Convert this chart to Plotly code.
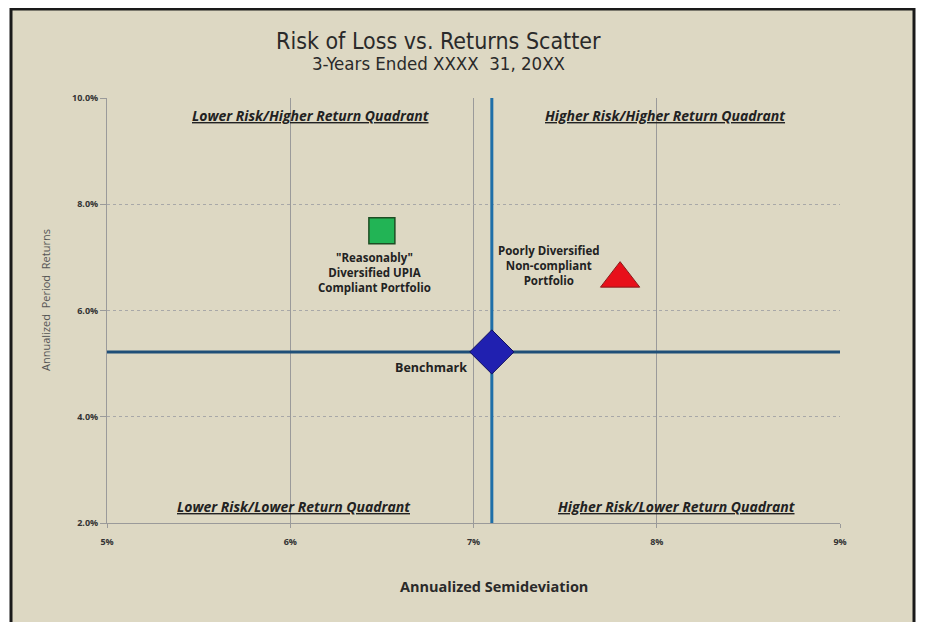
import plotly.graph_objects as go

# ---- data ----
series_names = ["Reasonably Diversified UPIA Compliant Portfolio",
                "Poorly Diversified Non-compliant Portfolio",
                "Benchmark"]
risk = [6.5, 7.8, 7.1]          # annualized semideviation, %
ret = [7.5, 6.6, 5.22]          # annualized period returns, %
x_ticks = [5, 6, 7, 8, 9]
x_tick_labels = ["5%", "6%", "7%", "8%", "9%"]
y_ticks = [2, 4, 6, 8, 10]
y_tick_labels = ["2.0%", "4.0%", "6.0%", "8.0%", "10.0%"]

point_labels = ["\"Reasonably\"<br>Diversified UPIA<br>Compliant Portfolio",
                "Poorly Diversified<br>Non-compliant<br>Portfolio",
                "Benchmark"]
quadrant_labels = ["Lower Risk/Higher Return Quadrant",
                   "Higher Risk/Higher Return Quadrant",
                   "Lower Risk/Lower Return Quadrant",
                   "Higher Risk/Lower Return Quadrant"]

BEIGE = "#ddd8c3"
FONT = "Open Sans"
TFONT = "DejaVu Sans Condensed"

fig = go.Figure()

fig.add_trace(go.Scatter(x=[risk[0]], y=[ret[0]], mode="markers",
                         marker=dict(symbol="square", size=26, color="#22b455",
                                     line=dict(color="#1d4d23", width=1.5)),
                         showlegend=False, hoverinfo="skip"))
fig.add_trace(go.Scatter(x=[risk[1]], y=[ret[1]], mode="markers",
                         marker=dict(symbol="triangle-up", size=34, color="#e8101a",
                                     line=dict(color="#8a1a1a", width=1)),
                         showlegend=False, hoverinfo="skip"))
fig.add_trace(go.Scatter(x=[risk[2]], y=[ret[2]], mode="markers",
                         marker=dict(symbol="diamond", size=34, color="#2020b0",
                                     line=dict(color="#101060", width=1)),
                         showlegend=False, hoverinfo="skip"))

# page offset: the browser body has an 8px margin
OFF = 8
L, R, T, B = 107, 840, 98, 523          # plot area in screen pixels
VW, VH = 925, 622
W, H = VW - OFF, VH - OFF
def px(x): return (x - L) / (R - L)
def py(y): return (B - y) / (B - T)

shapes = [
    dict(type="rect", xref="paper", yref="paper", layer="below",
         x0=px(11), x1=px(914), y0=py(640), y1=py(9),
         fillcolor=BEIGE, line=dict(color="#1a1a1a", width=3)),
    dict(type="line", xref="x", yref="y", layer="between",
         x0=risk[2], x1=risk[2], y0=y_ticks[0], y1=y_ticks[-1],
         line=dict(color="#1f6fa8", width=3)),
    dict(type="line", xref="x", yref="y", layer="between",
         x0=x_ticks[0], x1=x_ticks[-1], y0=ret[2], y1=ret[2],
         line=dict(color="#1f4f78", width=3)),
]

def paper_ann(x, y, text, size, color="#2a2a2a", family=FONT, angle=0):
    return dict(xref="paper", yref="paper", x=px(x), y=py(y), showarrow=False,
                xanchor="center", yanchor="middle", text=text, textangle=angle,
                font=dict(family=family, size=size, color=color))

annotations = [
    paper_ann(438, 41, "Risk of Loss vs. Returns Scatter", 23, family=TFONT),
    paper_ann(438, 64, "3-Years Ended XXXX  31, 20XX", 18.5, family=TFONT),
    paper_ann(494, 586, "<b>Annualized Semideviation</b>", 14.5),
    paper_ann(45, 300, "Annualized  Period  Returns", 11, color="#555555", angle=-90),
    dict(x=6.46, y=6.72, showarrow=False, text="<b>" + point_labels[0] + "</b>",
         font=dict(family=FONT, size=11.5, color="#222222")),
    dict(x=7.41, y=6.85, showarrow=False, text="<b>" + point_labels[1] + "</b>",
         font=dict(family=FONT, size=11.5, color="#222222")),
    dict(x=6.77, y=4.92, showarrow=False, text="<b>" + point_labels[2] + "</b>",
         font=dict(family=FONT, size=12.5, color="#222222")),
]
quad_pos = [(6.115, 9.68), (8.05, 9.68), (6.02, 2.32), (8.11, 2.32)]
for (qx, qy), t in zip(quad_pos, quadrant_labels):
    annotations.append(dict(x=qx, y=qy, showarrow=False,
                            text="<b><i><u>" + t + "</u></i></b>",
                            font=dict(family=FONT, size=14, color="#222222")))

fig.update_layout(
    width=W, height=H,
    margin=dict(l=L - OFF, r=VW - R, t=T - OFF, b=VH - B, pad=0),
    paper_bgcolor="white", plot_bgcolor="white",
    shapes=shapes, annotations=annotations, showlegend=False,
    xaxis=dict(range=[x_ticks[0], x_ticks[-1]], tickmode="array",
               tickvals=x_ticks, ticktext=x_tick_labels,
               showgrid=True, gridcolor="#9a9a9a", gridwidth=1,
               zeroline=False, showline=True, linecolor="#9a9a9a", linewidth=1,
               ticks="outside", ticklen=4, tickcolor="#9a9a9a",
               ticklabelstandoff=6,
               tickfont=dict(family=FONT, size=9, color="#333333", weight="bold")),
    yaxis=dict(range=[y_ticks[0], y_ticks[-1]], tickmode="array",
               tickvals=y_ticks, ticktext=y_tick_labels,
               showgrid=True, gridcolor="#a8a8a8", gridwidth=1,
               griddash="dot", zeroline=False, showline=True, linecolor="#9a9a9a",
               linewidth=1, ticks="outside", ticklen=6, tickcolor="#9a9a9a",
               tickfont=dict(family=FONT, size=9, color="#333333", weight="bold")),
)

fig.write_html("out.html")
